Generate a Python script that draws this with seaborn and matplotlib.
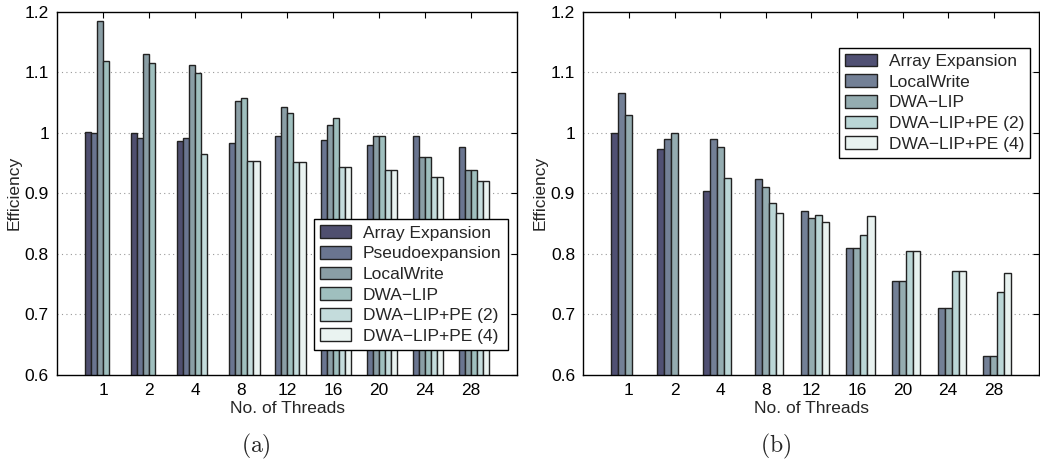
import numpy as np
import pandas as pd
import matplotlib
matplotlib.use("Agg")
import matplotlib.pyplot as plt
import seaborn as sns

nan = np.nan

threads = ["1", "2", "4", "8", "12", "16", "20", "24", "28"]

# panel (a)
a_names = ["Array Expansion", "Pseudoexpansion", "LocalWrite", "DWA\u2212LIP",
           "DWA\u2212LIP+PE (2)", "DWA\u2212LIP+PE (4)"]
a_array_exp = [1.002, 0.999, 0.986, nan, nan, nan, nan, nan, nan]
a_pseudo = [1.000, 0.992, 0.992, 0.983, 0.995, 0.988, 0.980, 0.995, 0.977]
a_localwrite = [1.185, 1.130, 1.112, 1.052, 1.042, 1.013, 0.995, 0.960, 0.938]
a_dwa = [1.118, 1.115, 1.098, 1.058, 1.032, 1.025, 0.995, 0.960, 0.938]
a_dwa_pe2 = [nan, nan, 0.965, 0.954, 0.952, 0.943, 0.938, 0.927, 0.920]
a_dwa_pe4 = [nan, nan, nan, 0.954, 0.952, 0.943, 0.938, 0.927, 0.920]
a_colors = ["#4f4f6f", "#6a7590", "#8a9ea5", "#9fbfbe", "#c4dcdc", "#eaf3f1"]

# panel (b)
b_names = ["Array Expansion", "LocalWrite", "DWA\u2212LIP",
           "DWA\u2212LIP+PE (2)", "DWA\u2212LIP+PE (4)"]
b_array_exp = [1.000, 0.973, 0.904, nan, nan, nan, nan, nan, nan]
b_localwrite = [1.065, 0.989, 0.989, 0.924, 0.871, 0.810, 0.755, 0.710, 0.631]
b_dwa = [1.030, 0.999, 0.976, 0.910, 0.859, 0.810, 0.755, 0.710, 0.631]
b_dwa_pe2 = [nan, nan, 0.926, 0.884, 0.865, 0.832, 0.804, 0.772, 0.737]
b_dwa_pe4 = [nan, nan, nan, 0.868, 0.853, 0.863, 0.804, 0.772, 0.769]
b_colors = ["#505073", "#738096", "#94acb0", "#bad6d6", "#e8f2f0"]

yticks = [0.6, 0.7, 0.8, 0.9, 1.0, 1.1, 1.2]


def long_table(names, series):
    rows = []
    for name, vals in zip(names, series):
        for t, v in zip(threads, vals):
            if not np.isnan(v):
                rows.append({"threads": t, "method": name, "eff": v})
    return pd.DataFrame(rows)


def draw_panel(ax, df, names, colors, width):
    sns.barplot(data=df, x="threads", y="eff", hue="method", order=threads,
                hue_order=names, palette=colors, width=width, errorbar=None,
                edgecolor="#222222", linewidth=1.0, saturation=1, ax=ax)
    ax.set_xlim(-1, 9)
    ax.set_ylim(0.6, 1.2)
    ax.set_yticks(yticks)
    ax.set_yticklabels(["%g" % v for v in yticks])
    ax.set_axisbelow(True)
    for v in yticks[1:-1]:
        ax.axhline(v, color="#999999", linestyle=(0, (1, 3)), linewidth=0.8, zorder=0)
    ax.tick_params(direction="in", top=True, right=True, length=4, width=0.8,
                   pad=6, labelsize=12.5, colors="black")
    for s in ax.spines.values():
        s.set_color("black")
        s.set_linewidth(1.0)
    ax.set_xlabel("No. of Threads", fontsize=12.5, labelpad=2)
    ax.set_ylabel("Efficiency", fontsize=12.5, labelpad=2)


sns.set_style("white")
plt.rcParams["font.family"] = ["Liberation Sans", "DejaVu Sans"]
plt.rcParams["mathtext.fontset"] = "cm"

fig = plt.figure(figsize=(10.4, 4.66), dpi=100)
ax1 = fig.add_axes([0.0551, 0.1953, 0.4420, 0.7796])
ax2 = fig.add_axes([0.5609, 0.1953, 0.4385, 0.7796])

df_a = long_table(a_names, [a_array_exp, a_pseudo, a_localwrite, a_dwa, a_dwa_pe2, a_dwa_pe4])
df_b = long_table(b_names, [b_array_exp, b_localwrite, b_dwa, b_dwa_pe2, b_dwa_pe4])

draw_panel(ax1, df_a, a_names, a_colors, 0.8)
draw_panel(ax2, df_b, b_names, b_colors, 0.77)

leg_kw = dict(title=None, frameon=True, fancybox=False, fontsize=12.5,
              handlelength=1.8, handleheight=0.75, labelspacing=0.3,
              handletextpad=0.7, borderpad=0.35, borderaxespad=0, framealpha=1,
              edgecolor="black")
sns.move_legend(ax1, "lower right", bbox_to_anchor=(0.98, 0.069), **leg_kw)
sns.move_legend(ax2, "upper right", bbox_to_anchor=(0.98, 0.901), **leg_kw)
for ax in (ax1, ax2):
    ax.get_legend().get_frame().set_linewidth(1.0)

fig.text(0.246, 0.041, r"$\mathrm{(a)}$", ha="center", va="center", fontsize=17)
fig.text(0.746, 0.041, r"$\mathrm{(b)}$", ha="center", va="center", fontsize=17)

fig.savefig("out.png", dpi=100)
